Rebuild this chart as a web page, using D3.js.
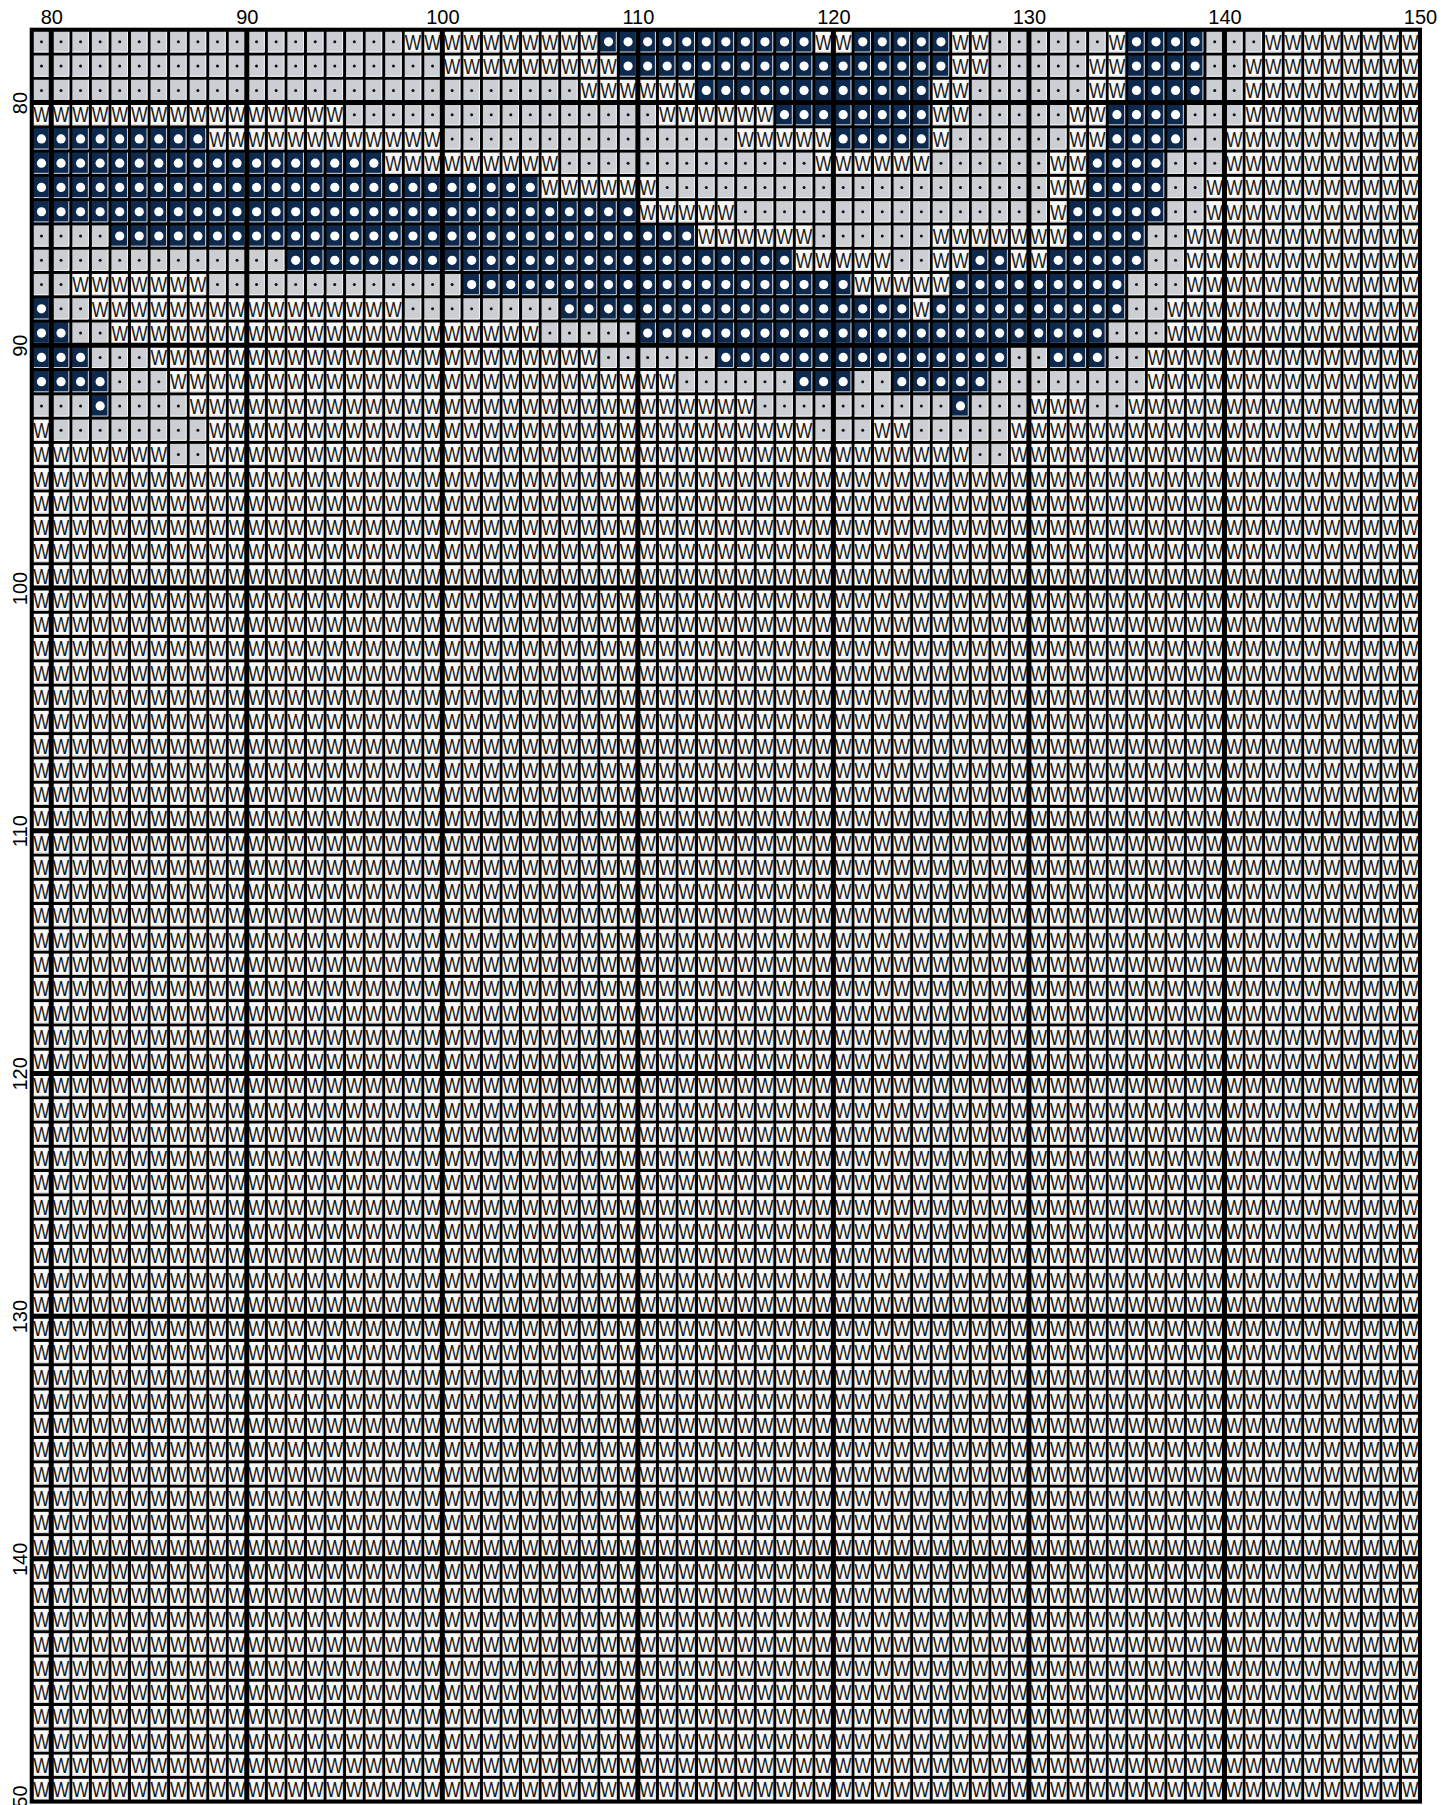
<!DOCTYPE html>
<html>
<head>
<meta charset="utf-8">
<title>Pattern chart</title>
<script src="https://d3js.org/d3.v7.min.js"></script>
<style>
body { margin: 0; padding: 0; background: #fff; font-family: "Liberation Sans", Arial, sans-serif; }
#chart { position: absolute; top: 0; left: 0; }
</style>
</head>
<body>
<div id="chart"></div>
<script>

// chart numbering (grid lines)
var firstCol = 79, lastCol = 150
var firstRow = 77, lastRow = 150
var colTicks = [80, 90, 100, 110, 120, 130, 140, 150]
var rowTicks = [80, 90, 100, 110, 120, 130, 140, 150]

// symbol key: W = white, . = grey, O = navy
var symbolKeys = ['W', '.', 'O']
var symbolFills = ['#f9f9f9', '#cbced2', '#0d2a4e']
var symbolEdges = ['#d4d4d4', '#f4f5f6', '#cfd6df']

// rows 77..94, run length from col 79 to 149. every row after 94 is all W
var patternRows = [
"19. 10W 11O 2W 5O 2W 6. 1W 4O 3. 8W",     // 77
"21. 9W 17O 2W 5. 2W 4O 2. 9W",            // 78
"28. 6W 12O 2W 6. 2W 4O 2. 9W",            // 79
"16W 16. 6W 8O 2W 5. 2W 4O 3. 9W",         // 80
"9O 12W 15. 5W 5O 1W 6. 2W 4O 2. 10W",     // 81
"18O 9W 13. 6W 6. 2W 4O 3. 10W",           // 82
"26O 6W 20. 2W 4O 2. 11W",                 // 83
"31O 5W 16. 1W 5O 2. 11W",                 // 84
"4. 30O 6W 6. 7W 4O 2. 12W",               // 85
"13. 26O 5W 2. 2W 2O 2W 5O 2. 12W",        // 86
"2. 7W 13. 20O 5W 9O 3. 12W",              // 87
"1O 2. 16W 8. 18O 1W 10O 2. 13W",          // 88
"2O 2. 22W 5. 24O 3. 13W",                 // 89
"3O 3. 23W 6. 15O 2. 3O 2. 14W",           // 90
"4O 3. 26W 6. 3O 2. 5O 8. 14W",            // 91
"3. 1O 4. 29W 10. 1O 3. 3W 2. 15W",        // 92
"1W 8. 31W 3. 2W 5. 21W",                  // 93
"7W 2. 39W 2. 21W"                         // 94
]

function decodeRow(s){
  var out = ''
  s.split(' ').forEach(function(t){
    var n = parseInt(t)
    var ch = t.charAt(t.length - 1)
    for (var i = 0; i < n; i++) out += ch
  })
  return out
}
var decoded = patternRows.map(decodeRow)

var cells = []
for (var r = firstRow; r < lastRow; r++) {
  var line = decoded[r - firstRow]
  for (var c = firstCol; c < lastCol; c++) {
    var sym = line ? line.charAt(c - firstCol) : 'W'
    cells.push({col: c, row: r, sym: sym})
  }
}

var width = 1447, height = 1805

var svg = d3.select('#chart')
  .append('svg')
    .attr('width', width)
    .attr('height', height)

var x = d3.scaleLinear()
    .domain([firstCol, lastCol])
    .range([31.7, 1420])
var y = d3.scaleLinear()
    .domain([firstRow, lastRow])
    .range([29.7, 1801.6])

var fill = d3.scaleOrdinal().domain(symbolKeys).range(symbolFills)
var edge = d3.scaleOrdinal().domain(symbolKeys).range(symbolEdges)

var cw = x(firstCol + 1) - x(firstCol)
var ch = y(firstRow + 1) - y(firstRow)
var gap = 1.5

// black background = thin grid lines
svg.append('rect')
  .attr('x', x(firstCol))
  .attr('y', y(firstRow))
  .attr('width', x(lastCol) - x(firstCol))
  .attr('height', y(lastRow) - y(firstRow))
  .attr('fill', '#000')

var g = svg.selectAll('.cell')
  .data(cells)
  .enter()
  .append('g')
    .attr('class', 'cell')
    .attr('transform', function(d){ return 'translate(' + x(d.col) + ',' + y(d.row) + ')' })

g.append('rect')
  .attr('x', gap)
  .attr('y', gap)
  .attr('width', cw - 2 * gap)
  .attr('height', ch - 2 * gap)
  .attr('fill', function(d){ return fill(d.sym) })

// light edge right + bottom
g.append('path')
  .attr('d', 'M' + (cw - gap - 0.5) + ',' + gap + 'V' + (ch - gap - 0.5) + 'H' + gap)
  .attr('fill', 'none')
  .attr('stroke', function(d){ return edge(d.sym) })
  .attr('stroke-width', 1)

g.filter(function(d){ return d.sym == 'W' })
  .append('text')
    .attr('x', cw / 2)
    .attr('y', ch * 0.82)
    .attr('text-anchor', 'middle')
    .attr('font-size', 22.5)
    .attr('textLength', cw - 2 * gap)
    .attr('lengthAdjust', 'spacingAndGlyphs')
    .attr('fill', '#1a1a1a')
    .text('W')

g.filter(function(d){ return d.sym == '.' })
  .append('circle')
    .attr('cx', cw / 2)
    .attr('cy', ch / 2)
    .attr('r', 1.5)
    .attr('fill', '#111')

g.filter(function(d){ return d.sym == 'O' })
  .append('circle')
    .attr('cx', cw / 2)
    .attr('cy', ch / 2)
    .attr('r', 4.6)
    .attr('fill', '#fff')

// thick lines every 10
svg.selectAll('.vthick')
  .data(colTicks.filter(function(d){ return d < lastCol }))
  .enter()
  .append('line')
    .attr('x1', function(d){ return x(d) })
    .attr('x2', function(d){ return x(d) })
    .attr('y1', y(firstRow))
    .attr('y2', y(lastRow))
    .attr('stroke', '#000')
    .attr('stroke-width', 5)
svg.selectAll('.hthick')
  .data(rowTicks.filter(function(d){ return d < lastRow }))
  .enter()
  .append('line')
    .attr('y1', function(d){ return y(d) })
    .attr('y2', function(d){ return y(d) })
    .attr('x1', x(firstCol))
    .attr('x2', x(lastCol))
    .attr('stroke', '#000')
    .attr('stroke-width', 5)

svg.append('rect')
  .attr('x', x(firstCol))
  .attr('y', y(firstRow))
  .attr('width', x(lastCol) - x(firstCol))
  .attr('height', y(lastRow) - y(firstRow))
  .attr('fill', 'none')
  .attr('stroke', '#000')
  .attr('stroke-width', 4)

// column numbers on top
var topAxis = svg.append('g')
  .attr('transform', 'translate(0,' + y(firstRow) + ')')
  .call(d3.axisTop(x).tickValues(colTicks).tickSize(0).tickPadding(6))
topAxis.select('.domain').remove()
topAxis.selectAll('text')
  .attr('font-size', 20)
  .attr('font-family', '"Liberation Sans", Arial, sans-serif')
  .attr('fill', '#000')

// row numbers on the left, turned
var leftAxis = svg.append('g')
  .attr('transform', 'translate(' + x(firstCol) + ',0)')
  .call(d3.axisLeft(y).tickValues(rowTicks).tickSize(0))
leftAxis.select('.domain').remove()
leftAxis.selectAll('text')
  .attr('x', null)
  .attr('dy', null)
  .attr('text-anchor', 'middle')
  .attr('transform', 'translate(-5,0) rotate(-90)')
  .attr('font-size', 20)
  .attr('font-family', '"Liberation Sans", Arial, sans-serif')
  .attr('fill', '#000')

</script>
</body>
</html>
